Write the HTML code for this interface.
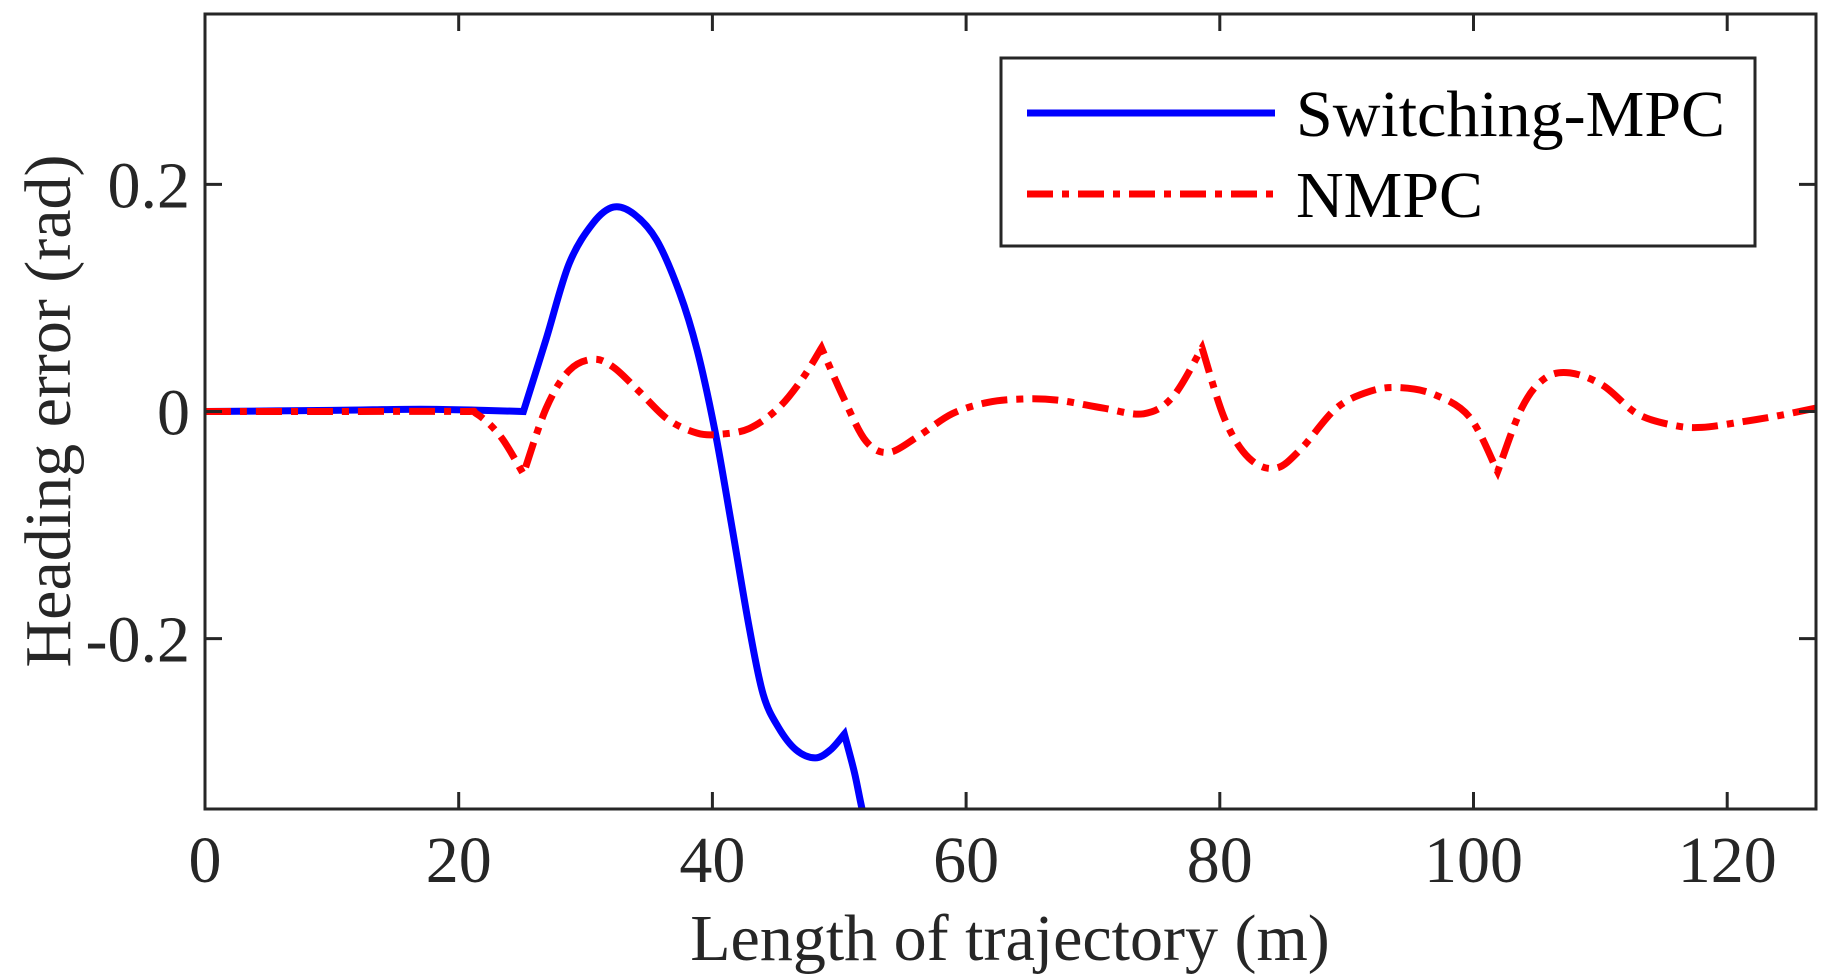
<!DOCTYPE html>
<html><head><meta charset="utf-8"><style>
html,body{margin:0;padding:0;background:#fff;}
svg{display:block;font-family:"Liberation Serif",serif;}
</style></head><body>
<svg id="c" width="1823" height="974" viewBox="0 0 1823 974">
<defs><clipPath id="clip"><rect x="205" y="14" width="1611" height="795"/></clipPath></defs>
<g id="plot" clip-path="url(#clip)"></g>
<rect x="205" y="14" width="1611" height="795" fill="none" stroke="#262626" stroke-width="3"/>
<g id="ticks"></g>
<text x="1010" y="960" font-size="66" text-anchor="middle" fill="#262626">Length of trajectory (m)</text>
<text transform="translate(70,411) rotate(-90)" font-size="66" text-anchor="middle" fill="#262626">Heading error (rad)</text>
<g>
<rect x="1001" y="58" width="754" height="188" fill="#fff" stroke="#262626" stroke-width="3"/>
<line x1="1027" y1="113" x2="1275" y2="113" stroke="#0000ff" stroke-width="7"/>
<text x="1296" y="136" font-size="66" fill="#000">Switching-MPC</text>
<line x1="1027" y1="194" x2="1275" y2="194" stroke="#ff0000" stroke-width="7" stroke-dasharray="26,9,7,9"/>
<text x="1296" y="217" font-size="66" fill="#000">NMPC</text>
</g>
</svg>
<script>
const xTicks=[0,20,40,60,80,100,120];
const yTicks=[-0.2,0,0.2];
const yTickLabels=["-0.2","0","0.2"];
const swX=[0,10,17,22,25.1,26.9,28.7,30.6,32.2,33.8,35.6,37.4,38.8,40.2,41.5,42.9,44,45.2,46.6,48.1,49.3,50.4,51.2,51.8,52.5];
const swY=[0,0.001,0.002,0.001,0,0.064,0.13,0.166,0.18,0.174,0.151,0.105,0.054,-0.017,-0.099,-0.19,-0.249,-0.278,-0.298,-0.305,-0.298,-0.284,-0.318,-0.35,-0.38];
const swSharp=[25.1,50.4];
const nmX=[0,10,20,21.4,23.3,25.1,26.9,28.7,30.6,32.2,34.2,36.5,38.8,40.6,42.9,45.2,47.1,48.6,50.3,52.1,53.9,56.2,58.9,61.7,64.4,67.2,70.8,74,76.3,78.6,80.4,82.3,84.4,86.4,89.2,91.9,94.2,96.9,99.7,101.9,103.8,105.6,107.6,110.2,112.9,115.7,118,121.2,123.9,127];
const nmY=[0,0,0,-0.002,-0.022,-0.055,0.003,0.036,0.046,0.039,0.018,-0.007,-0.019,-0.02,-0.015,0.003,0.029,0.056,0.013,-0.026,-0.036,-0.022,-0.002,0.008,0.011,0.010,0.003,-0.002,0.013,0.056,-0.007,-0.041,-0.05,-0.033,0.003,0.018,0.021,0.015,-0.005,-0.053,0.003,0.029,0.034,0.023,-0.002,-0.012,-0.014,-0.009,-0.004,0.003];
const nmSharp=[25.1,48.6,78.6,101.9];
const L=205,R=1816,T=14,B=809,XMAX=127,YMIN=-0.35,YMAX=0.35;
const xs=v=>L+(v/XMAX)*(R-L);
const ys=v=>B-(v-YMIN)/(YMAX-YMIN)*(B-T);
const NS="http://www.w3.org/2000/svg";
function pathD(X,Y,sharp){
  const p=X.map((x,i)=>[xs(x),ys(Y[i])]);
  const sh=X.map(x=>sharp.includes(x));
  let d="M"+p[0][0]+","+p[0][1];
  for(let i=0;i<p.length-1;i++){
    const p1=p[i],p2=p[i+1];
    const p0=sh[i]?p1:p[Math.max(i-1,0)];
    const p3=sh[i+1]?p2:p[Math.min(i+2,p.length-1)];
    const c1=[p1[0]+(p2[0]-p0[0])/6,p1[1]+(p2[1]-p0[1])/6];
    const c2=[p2[0]-(p3[0]-p1[0])/6,p2[1]-(p3[1]-p1[1])/6];
    d+=" C"+c1+" "+c2+" "+p2;
  }
  return d;
}
const plot=document.getElementById('plot');
const s1=document.createElementNS(NS,'path');
s1.setAttribute('d',pathD(swX,swY,swSharp));
s1.setAttribute('fill','none');s1.setAttribute('stroke','#0000ff');s1.setAttribute('stroke-width','7');


plot.appendChild(s1);
const s2=document.createElementNS(NS,'path');
s2.setAttribute('d',pathD(nmX,nmY,nmSharp));
s2.setAttribute('fill','none');s2.setAttribute('stroke','#ff0000');s2.setAttribute('stroke-width','7');
s2.setAttribute('stroke-dasharray','26,9,7,9');


plot.appendChild(s2);
const tg=document.getElementById('ticks');
function add(tag,attrs,name,text){
  const e=document.createElementNS(NS,tag);
  for(const k in attrs)e.setAttribute(k,attrs[k]);
  
  
  if(text!==undefined)e.textContent=text;
  tg.appendChild(e);
}
xTicks.forEach(v=>{
  const x=xs(v);
  add('line',{x1:x,x2:x,y1:B,y2:B-17,stroke:'#262626','stroke-width':3},'x-tick-bottom');
  add('line',{x1:x,x2:x,y1:T,y2:T+17,stroke:'#262626','stroke-width':3},'x-tick-top');
  add('text',{x:x,y:882,'font-size':66,'text-anchor':'middle',fill:'#262626'},'x-tick-label',String(v));
});
yTicks.forEach((v,i)=>{
  const y=ys(v);
  add('line',{x1:L,x2:L+17,y1:y,y2:y,stroke:'#262626','stroke-width':3},'y-tick-left');
  add('line',{x1:R,x2:R-17,y1:y,y2:y,stroke:'#262626','stroke-width':3},'y-tick-right');
  add('text',{x:190,y:y+23,'font-size':66,'text-anchor':'end',fill:'#262626'},'y-tick-label',yTickLabels[i]);
});
</script>
</body></html>
